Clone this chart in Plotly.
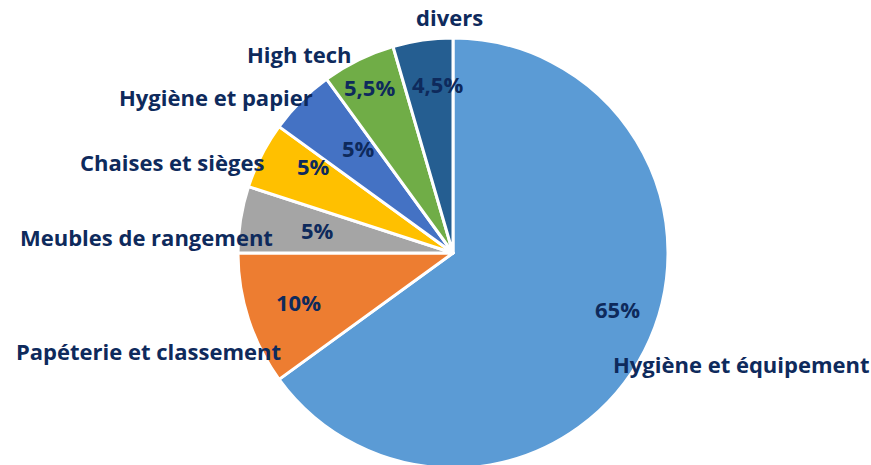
import plotly.graph_objects as go

categories = ["Hygiène et équipement", "Papéterie et classement", "Meubles de rangement",
              "Chaises et sièges", "Hygiène et papier", "High tech", "divers"]
shares = [65, 10, 5, 5, 5, 5.5, 4.5]
pct_labels = ["65%", "10%", "5%", "5%", "5%", "5,5%", "4,5%"]

colors = ["#5B9BD5", "#ED7D31", "#A5A5A5", "#FFC000", "#4472C4", "#70AD47", "#255E91"]
navy = "#0E2A5C"
font = "Open Sans"

# the pie runs a little past the bottom edge of the window, like the original
W, H = 871, 468
TOP = 38  # top margin; plot area = H - TOP

# label centres in pixels (from top-left)
name_pos = [(741, 364), (148, 351), (146, 237), (172, 162), (216, 97), (299, 54), (449, 17)]
pct_pos = [(617, 309), (298, 302), (317, 230), (313, 166), (358, 148), (369, 87), (437, 84)]

fig = go.Figure(go.Pie(
    labels=categories,
    values=shares,
    textinfo="none",
    sort=False,
    direction="clockwise",
    rotation=0,
    marker=dict(colors=colors, line=dict(color="white", width=3)),
    domain=dict(x=[453 / W - 0.25, 453 / W + 0.25], y=[0, 1]),
    showlegend=False,
    hoverinfo="label+percent",
))

for txt_list, pos_list in ((categories, name_pos), (pct_labels, pct_pos)):
    for txt, (px_, py_) in zip(txt_list, pos_list):
        fig.add_annotation(x=px_ / W, y=1 - (py_ - TOP) / (H - TOP),
                           xref="paper", yref="paper",
                           xanchor="center", yanchor="middle",
                           text=txt, showarrow=False,
                           font=dict(family=font, size=22, color=navy, weight="bold"))

fig.update_layout(
    width=W, height=H,
    margin=dict(l=0, r=0, t=TOP, b=0),
    paper_bgcolor="white",
)
fig.write_html("out.html", config={"displayModeBar": False},
               post_script="document.body.style.margin='0';"
                           "document.body.style.overflow='hidden';")
